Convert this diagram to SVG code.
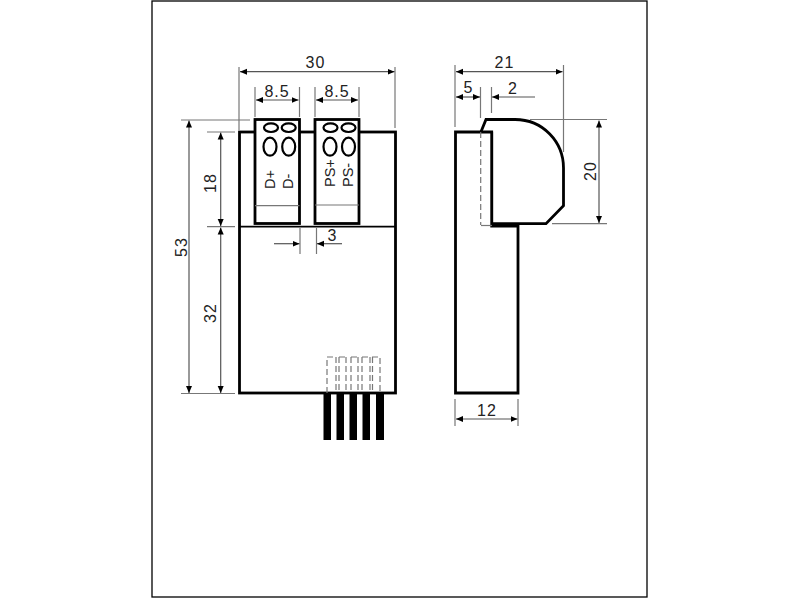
<svg xmlns="http://www.w3.org/2000/svg" width="800" height="600" viewBox="0 0 800 600">
<style>
.o{fill:#fff;stroke:#000;stroke-width:2.800}
.v{fill:none;stroke:#000;stroke-width:2.200}
.e{fill:none;stroke:#777;stroke-width:1.200}
.d{fill:none;stroke:#555;stroke-width:1.200;marker-start:url(#s);marker-end:url(#a)}
.d1{fill:none;stroke:#555;stroke-width:1.200;marker-end:url(#a)}
.da{fill:none;stroke:#777;stroke-width:1.200;stroke-dasharray:6 3}
.t{font-family:"Liberation Sans",Arial,sans-serif;font-size:16px;letter-spacing:1px;fill:#222;text-anchor:middle}
.l{font-family:"Liberation Sans",Arial,sans-serif;font-size:14.500px;fill:#222}
</style>
<defs>
<marker id="a" markerWidth="8" markerHeight="7" refX="7" refY="3.500" orient="auto" markerUnits="userSpaceOnUse"><path d="M0 0.500L7 3.500L0 6.500Z" fill="#000"/></marker>
<marker id="s" markerWidth="8" markerHeight="7" refX="0" refY="3.500" orient="auto" markerUnits="userSpaceOnUse"><path d="M7 0.500L0 3.500L7 6.500Z" fill="#000"/></marker>
</defs>
<rect x="0" y="0" width="800" height="600" fill="#fff"/>
<rect id="frame" x="152" y="1" width="495" height="596" fill="none" stroke="#000" stroke-width="1.300"/>

<g id="front-pins">
<rect x="323.500" y="393" width="7.500" height="47" fill="#000"/>
<rect x="336.500" y="393" width="7.500" height="47" fill="#000"/>
<rect x="349.500" y="393" width="7.500" height="47" fill="#000"/>
<rect x="362.500" y="393" width="7.500" height="47" fill="#000"/>
<rect x="376" y="393" width="8" height="47" fill="#000"/>
</g>
<g id="front-body">
<rect class="o" x="239.500" y="132" width="156" height="261"/>
<path d="M239.500 226.700H395.500" stroke="#000" stroke-width="1.800"/>
<path class="da" d="M327 393V357H336M339 357H346M351 357H358M362 357H370M372 357H380V393M336 357V393M339 357V393M346 357V393M351 357V393M358 357V393M362 357V393M370 357V393M372.500 357V393"/>
</g>
<g id="connector-d">
<rect class="o" x="255" y="119.500" width="44.500" height="104"/>
<path d="M255 205.700H299.500" stroke="#777" stroke-width="1.200"/>
<ellipse class="v" cx="271" cy="127.700" rx="7" ry="4.300"/>
<ellipse class="v" cx="288.700" cy="127.700" rx="7" ry="4.300"/>
<ellipse class="v" cx="270" cy="146.700" rx="6.500" ry="9"/>
<ellipse class="v" cx="288.700" cy="146.700" rx="6.500" ry="9"/>
<text class="l" transform="translate(274.500 189) rotate(-90)">D+</text>
<text class="l" transform="translate(292.700 189) rotate(-90)">D-</text>
</g>
<g id="connector-ps">
<rect class="o" x="315" y="119.500" width="44" height="104"/>
<path d="M315 205H359" stroke="#777" stroke-width="1.200"/>
<ellipse class="v" cx="330.500" cy="127.700" rx="7" ry="4.300"/>
<ellipse class="v" cx="348.500" cy="127.700" rx="7" ry="4.300"/>
<ellipse class="v" cx="330" cy="146.700" rx="6.500" ry="9"/>
<ellipse class="v" cx="348.500" cy="146.700" rx="6.500" ry="9"/>
<text class="l" transform="translate(334.500 187) rotate(-90)">PS+</text>
<text class="l" transform="translate(352.700 187) rotate(-90)">PS-</text>
</g>
<g id="side-view">
<path class="o" d="M481 131.700L486 119.500H515C543 119.500 563.500 142 563.500 168V205.700L546 223.700H491.700V131.700"/>
<path class="o" d="M455.500 132H491.700V226H518V393H455.500Z"/>
<path class="da" d="M480.700 132V225"/>
<path class="e" d="M481 225.500H492"/>
</g>

<g id="connectors">
<path class="e" d="M239 67V130M395 67V128M255 87V117M299.500 87V117M315 87V117M359 87V117M300 228V254M316.500 228V254M181 120H250M181 393.500H235M207 132H235M207 226.700H235"/>
<path class="e" d="M455 65V127M563.500 65V152M480.500 87V118M491.500 87V113M530 119.500H607M552 223.700H607M455 399V426M518 399V426"/>
<path class="d" d="M240 71.700H394.500"/>
<path class="d" d="M256 100H298.500"/>
<path class="d" d="M316 100H358"/>
<path class="d1" d="M274 243.700H299.500"/>
<path class="d1" d="M342 243.700H317"/>
<path class="d" d="M189 120.500V393"/>
<path class="d" d="M220.700 132.500V226"/>
<path class="d" d="M220.700 227.500V393"/>
<path class="d" d="M456 71.700H562.500"/>
<path class="d" d="M456 97H480"/>
<path class="d1" d="M535 97H492"/>
<path class="d" d="M599 120.500V223"/>
<path class="d" d="M456 419H517.500"/>
</g>
<g id="labels">
<text class="t" x="315.500" y="68">30</text>
<text class="t" x="277" y="96.500">8.5</text>
<text class="t" x="337" y="96.500">8.5</text>
<text class="t" x="332.500" y="241">3</text>
<text class="t" x="504.500" y="68">21</text>
<text class="t" x="468.500" y="92.500">5</text>
<text class="t" x="513" y="94">2</text>
<text class="t" x="487" y="416">12</text>
<text class="t" transform="translate(186.500 247) rotate(-90)">53</text>
<text class="t" transform="translate(215.500 183) rotate(-90)">18</text>
<text class="t" transform="translate(215.500 313) rotate(-90)">32</text>
<text class="t" transform="translate(596 171) rotate(-90)">20</text>
</g>
</svg>
